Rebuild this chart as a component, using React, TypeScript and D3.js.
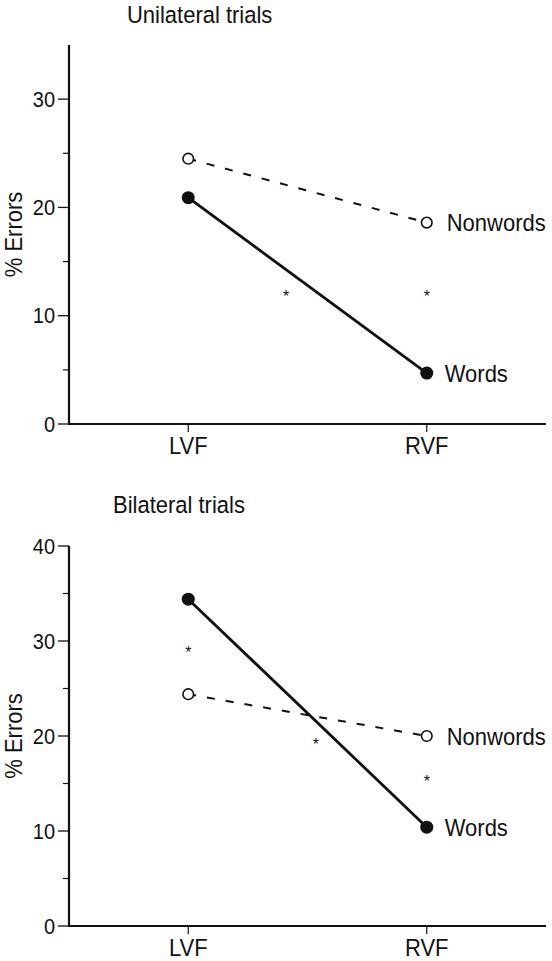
import React from "react";
import * as d3 from "d3";

const categories = ["LVF", "RVF"];
const seriesNames = ["Words", "Nonwords"];

// Unilateral trials
const uniWords = [20.9, 4.7];
const uniNonwords = [24.5, 18.6];
const uniYTicks = [0, 10, 20, 30];
const uniYMinor = [5, 15, 25];
const uniStars = [
  { pos: 0.41, value: 12.1 },
  { pos: 1, value: 12.1 },
];

// Bilateral trials
const biWords = [34.4, 10.4];
const biNonwords = [24.4, 20.0];
const biYTicks = [0, 10, 20, 30, 40];
const biYMinor = [5, 15, 25, 35];
const biStars = [
  { pos: 0, value: 29.2 },
  { pos: 0.535, value: 19.5 },
  { pos: 1, value: 15.65 },
];

const FONT = "'Liberation Sans', Arial, Helvetica, sans-serif";
const INK = "#111";

function Label(props: {
  x: number;
  y: number;
  size: number;
  anchor?: string;
  dy?: string;
  rotate?: number;
  children: React.ReactNode;
}) {
  const { x, y, size, anchor = "start", dy = "0", rotate = 0 } = props;
  return (
    <text
      transform={`translate(${x},${y}) rotate(${rotate}) scale(1,1.08)`}
      dy={dy}
      textAnchor={anchor}
      fontSize={size}
      fontFamily={FONT}
      fill={INK}
    >
      {props.children}
    </text>
  );
}

type PanelProps = {
  title: string;
  titleX: number;
  titleY: number;
  top: number;
  bottom: number;
  yMax: number;
  words: number[];
  nonwords: number[];
  yTicks: number[];
  yMinor: number[];
  stars: { pos: number; value: number }[];
};

function Panel(p: PanelProps) {
  const axisX = 69;
  const axisRight = 546;
  const x = d3.scalePoint<string>().domain(categories).range([axisX, axisRight]).padding(0.5);
  const y = d3.scaleLinear().domain([0, p.yMax]).range([p.bottom, p.top]);
  const xl = x("LVF")!;
  const xr = x("RVF")!;
  const line = d3
    .line<number>()
    .x((_, i) => x(categories[i])!)
    .y((v) => y(v));
  const mid = (p.top + p.bottom) / 2;
  return (
    <g>
      <Label x={p.titleX} y={p.titleY} size={22}>
        {p.title}
      </Label>
      <Label x={22} y={mid} size={22} anchor="middle" rotate={-90}>
        % Errors
      </Label>
      {/* axes */}
      <line x1={axisX} x2={axisX} y1={p.top} y2={p.bottom} stroke={INK} strokeWidth={2.2} />
      <line x1={axisX - 1} x2={axisRight} y1={p.bottom} y2={p.bottom} stroke={INK} strokeWidth={2.2} />
      {p.yTicks.map((t) => (
        <g key={"t" + t}>
          <line x1={axisX - 11} x2={axisX} y1={y(t)} y2={y(t)} stroke={INK} strokeWidth={1.3} />
          <Label x={axisX - 14} y={y(t)} dy="0.36em" anchor="end" size={20}>
            {t}
          </Label>
        </g>
      ))}
      {p.yMinor.map((t) => (
        <line key={"m" + t} x1={axisX - 6} x2={axisX} y1={y(t)} y2={y(t)} stroke={INK} strokeWidth={1.2} />
      ))}
      {categories.map((c) => (
        <g key={c}>
          <line x1={x(c)!} x2={x(c)!} y1={p.bottom} y2={p.bottom + 8} stroke={INK} strokeWidth={1.2} />
          <Label x={x(c)!} y={p.bottom + 30} anchor="middle" size={22}>
            {c}
          </Label>
        </g>
      ))}
      {/* lines */}
      <path d={line(p.nonwords)!} fill="none" stroke={INK} strokeWidth={2} strokeDasharray="8 11" />
      <path d={line(p.words)!} fill="none" stroke={INK} strokeWidth={2.8} />
      {p.nonwords.map((v, i) => (
        <circle key={"n" + i} cx={x(categories[i])!} cy={y(v)} r={5.3} fill="#fff" stroke={INK} strokeWidth={1.6} />
      ))}
      {p.words.map((v, i) => (
        <circle key={"w" + i} cx={x(categories[i])!} cy={y(v)} r={6.5} fill={INK} />
      ))}
      {/* series labels */}
      <Label x={xr + 20} y={y(p.nonwords[1])} dy="0.36em" size={22}>
        {seriesNames[1]}
      </Label>
      <Label x={xr + 18} y={y(p.words[1])} dy="0.36em" size={22}>
        {seriesNames[0]}
      </Label>
      {p.stars.map((s, i) => (
        <text
          key={"s" + i}
          x={xl + (xr - xl) * s.pos}
          y={y(s.value)}
          dy="0.58em"
          textAnchor="middle"
          fontSize={16}
          fontFamily={FONT}
          fill={INK}
        >
          *
        </text>
      ))}
    </g>
  );
}

export default function App() {
  return (
    <svg
      width={552}
      height={961}
      style={{ position: "absolute", left: 0, top: 0, background: "#fff" }}
    >
      <rect width={552} height={961} fill="#fff" />
      <Panel
        title="Unilateral trials"
        titleX={127}
        titleY={23}
        top={45}
        bottom={424}
        yMax={35}
        words={uniWords}
        nonwords={uniNonwords}
        yTicks={uniYTicks}
        yMinor={uniYMinor}
        stars={uniStars}
      />
      <Panel
        title="Bilateral trials"
        titleX={113}
        titleY={513}
        top={546}
        bottom={926}
        yMax={40}
        words={biWords}
        nonwords={biNonwords}
        yTicks={biYTicks}
        yMinor={biYMinor}
        stars={biStars}
      />
    </svg>
  );
}
